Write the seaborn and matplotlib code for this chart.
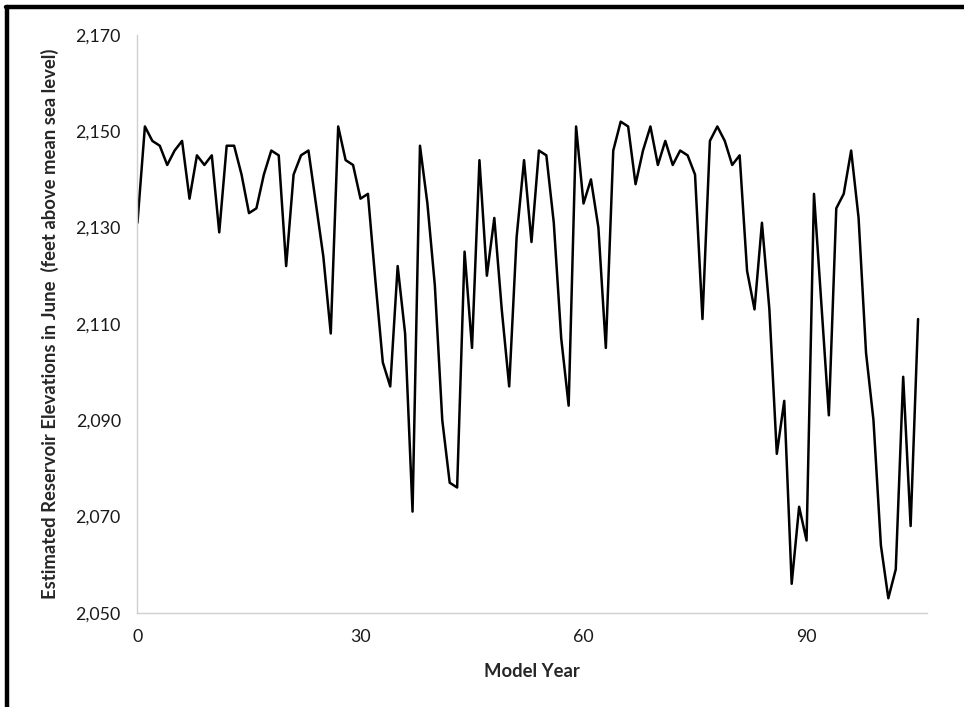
import numpy as np
import pandas as pd
import matplotlib
matplotlib.use("Agg")
import matplotlib.pyplot as plt
import seaborn as sns
from matplotlib.lines import Line2D
from matplotlib.ticker import FuncFormatter

# June reservoir elevation per model year (ft above mean sea level)
model_year = list(range(0, 106))
elevation = [
    2131, 2151, 2148, 2147, 2143, 2146, 2148, 2136, 2145, 2143,
    2145, 2129, 2147, 2147, 2141, 2133, 2134, 2141, 2146, 2145,
    2122, 2141, 2145, 2146, 2135, 2124, 2108, 2151, 2144, 2143,
    2136, 2137, 2119, 2102, 2097, 2122, 2108, 2071, 2147, 2135,
    2118, 2090, 2077, 2076, 2125, 2105, 2144, 2120, 2132, 2113,
    2097, 2128, 2144, 2127, 2146, 2145, 2131, 2107, 2093, 2151,
    2135, 2140, 2130, 2105, 2146, 2152, 2151, 2139, 2146, 2151,
    2143, 2148, 2143, 2146, 2145, 2141, 2111, 2148, 2151, 2148,
    2143, 2145, 2121, 2113, 2131, 2113, 2083, 2094, 2056, 2072,
    2065, 2137, 2114, 2091, 2134, 2137, 2146, 2132, 2104, 2090,
    2064, 2053, 2059, 2099, 2068, 2111,
]
y_ticks = [2050, 2070, 2090, 2110, 2130, 2150, 2170]
x_ticks = [0, 30, 60, 90]

df = pd.DataFrame({"Model Year": model_year, "Elevation": elevation})

sns.set_style("white")
plt.rcParams["font.family"] = ["Lato", "DejaVu Sans"]

fig = plt.figure(figsize=(9.64, 7.07), dpi=100)
ax = fig.add_axes([0.1426, 0.1334, 0.819, 0.8171])

sns.lineplot(data=df, x="Model Year", y="Elevation", color="black",
             linewidth=1.8, ax=ax)

ax.set_xlim(0, 106.2)
ax.set_ylim(2050, 2170)
ax.set_xticks(x_ticks)
ax.set_yticks(y_ticks)
ax.yaxis.set_major_formatter(FuncFormatter(lambda v, p: f"{int(v):,}"))
ax.tick_params(length=0, labelsize=12.8, colors="#1a1a1a", pad=12)

for side in ["top", "right"]:
    ax.spines[side].set_visible(False)
for side in ["left", "bottom"]:
    ax.spines[side].set_color("#d0d0d0")
    ax.spines[side].set_linewidth(1.0)

ax.set_xlabel("Model Year", fontsize=13.3, fontweight="bold", labelpad=13)
ax.set_ylabel("Estimated Reservoir Elevations in June  (feet above mean sea level)",
              fontsize=13.3, fontweight="bold", labelpad=12)

# black frame on top and left edges
fig.add_artist(Line2D([6 / 964, 1], [1 - 6.5 / 707, 1 - 6.5 / 707],
                      color="black", linewidth=3.2, transform=fig.transFigure))
fig.add_artist(Line2D([6.5 / 964, 6.5 / 964], [0, 1 - 6.5 / 707],
                      color="black", linewidth=3.2, transform=fig.transFigure))

fig.savefig("out.png", dpi=100)
